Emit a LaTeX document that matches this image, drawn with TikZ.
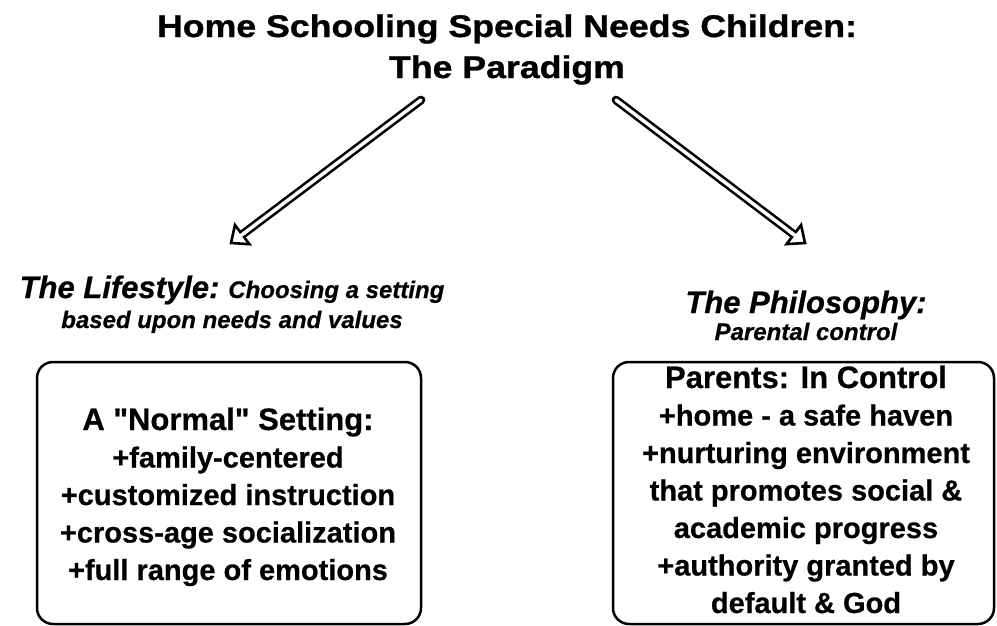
\documentclass[tikz,border=0pt]{standalone}
\usepackage{fontspec}
\setmainfont{Liberation Sans}[Ligatures=TeXOff, BoldFeatures={FakeBold=0.6}, BoldItalicFeatures={FakeBold=0.6}]
\newfontfamily\titlefont{Liberation Sans}[Ligatures=TeXOff, FakeStretch=1.14, BoldFeatures={FakeBold=1}]
\usetikzlibrary{calc}
\tikzset{
  titletext/.style={font=\titlefont\bfseries\fontsize{31.3}{41}\selectfont, align=center, anchor=base, inner sep=0pt},
  headtext/.style={font=\bfseries\itshape\fontsize{24}{30}\selectfont, align=center, anchor=base, inner sep=0pt},
  boxtext/.style={font=\bfseries\fontsize{29}{37.5}\selectfont, align=center, anchor=base, inner sep=0pt},
  roundbox/.style={draw, line width=2.5pt, rounded corners=16pt, inner sep=0pt},
  shaft/.style={line width=2.6pt, double=white, double distance=3.5pt, line cap=round},
  headtri/.style={fill=white, draw=black, line width=2.6pt, line join=miter}
}
\newcommand\hollowarrow[2]{%
  \coordinate (#2b) at ($(#2)!14pt!(#1)$);
  \coordinate (#2l) at ($(#2b)!12pt!90:(#2)$);
  \coordinate (#2r) at ($(#2b)!12pt!-90:(#2)$);
  \draw[shaft] (#1) -- (#2b);
  \filldraw[headtri] (#2) -- (#2l) -- (#2r) -- cycle;
  \draw[white, line width=3.5pt] ($(#2b)!3pt!(#1)$) -- ($(#2b)!3pt!(#2)$);
}
\begin{document}
\begin{tikzpicture}[x=1pt, y=-1pt]
\path[use as bounding box, fill=white] (0,0) rectangle (997,626);

% base anchor of a multi-line node = baseline of its last line
\node[titletext] (title) at (507,78) {Home Schooling Special Needs Children:\\The Paradigm};

\node[headtext] (life) at (232,328) {{\fontsize{31}{30}\selectfont The Lifestyle:} Choosing a setting\\based upon needs and values};
\node[headtext] (philo) at (806,340) {{\fontsize{31}{30}\selectfont The Philosophy:}\\[-3pt]Parental control};

\coordinate (ltail) at (421,100);
\coordinate (ltip) at (231,243);
\coordinate (rtail) at (616,100);
\coordinate (rtip) at (805,243);
\hollowarrow{ltail}{ltip}
\hollowarrow{rtail}{rtip}

\node[roundbox, minimum width=384pt, minimum height=262pt] (lbox) at (229,493) {};
\node[roundbox, minimum width=381pt, minimum height=262pt] (rbox) at (803.5,493) {};

\node[boxtext] (ltext) at (228,580) {{\fontsize{31}{37.5}\selectfont A "Normal" Setting:}\\+family-centered\\+customized instruction\\+cross-age socialization\\+full range of emotions};
\node[boxtext] (rtext) at (806,613) {{\fontsize{31}{37.5}\selectfont Parents: In Control}\\+home - a safe haven\\+nurturing environment\\that promotes social \&\\academic progress\\+authority granted by\\default \& God};
\end{tikzpicture}
\end{document}
